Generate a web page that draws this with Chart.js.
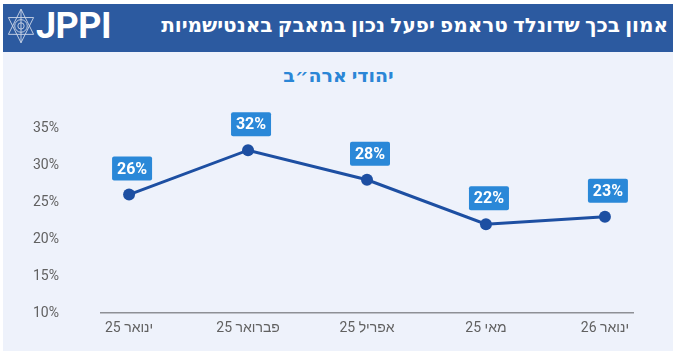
<!DOCTYPE html>
<html><head><meta charset="utf-8">
<script src="https://cdn.jsdelivr.net/npm/chart.js@4"></script>
<style>
html,body{margin:0;padding:0;background:#fff;}
#wrap{position:relative;width:677px;height:357px;overflow:hidden;font-family:"Noto Sans","DejaVu Sans",sans-serif;}
#card{position:absolute;left:3px;top:4px;width:670px;height:347px;background:#eef2fb;}
#head{position:absolute;left:3px;top:4px;width:670px;height:48px;background:#2c5aa0;}
#title{position:absolute;right:9px;top:11px;color:#fff;font-weight:bold;font-size:20px;direction:rtl;white-space:nowrap;line-height:28px;}
#logo{position:absolute;left:5px;top:6px;}
#jppi{position:absolute;left:36px;top:5px;color:#fff;font-weight:bold;font-size:36px;line-height:42px;letter-spacing:-0.5px;font-family:Roboto,sans-serif;}
#sub{position:absolute;left:0;width:677px;text-align:center;top:62px;color:#2a86d6;font-weight:bold;font-size:19px;direction:rtl;line-height:26px;}
canvas{position:absolute;left:0;top:0;}
</style></head>
<body>
<div id="wrap">
<div id="card"></div>
<div id="head"></div>
<svg id="logo" width="32" height="42" viewBox="0 0 30 40">
<g fill="none" stroke="#c9d3e6" stroke-width="0.9">
<polygon points="15,3 27,27 3,27"/>
<polygon points="15,35 27,11 3,11"/>
<circle cx="15" cy="19" r="6"/>
<circle cx="15" cy="19" r="3"/>
<line x1="15" y1="3" x2="15" y2="35"/>
</g>
</svg>
<div id="jppi">JPPI</div>
<div id="title">אמון בכך שדונלד טראמפ יפעל נכון במאבק באנטישמיות</div>
<div id="sub">יהודי ארה״ב</div>
<canvas id="c" width="677" height="357" style="direction:rtl"></canvas>
</div>
<script>
const categories = ["ינואר 25", "פברואר 25", "אפריל 25", "מאי 25", "ינואר 26"];
const values = [26, 32, 28, 22, 23];
const yTicks = [10, 15, 20, 25, 30, 35];

const FONT = 'Roboto, "Noto Sans", sans-serif';

const labelPlugin = {
  id: 'boxes',
  afterDatasetsDraw(chart) {
    const ctx = chart.ctx;
    const meta = chart.getDatasetMeta(0);
    ctx.save();
    ctx.font = 'bold 16px ' + FONT;
    meta.data.forEach((pt, i) => {
      const t = values[i] + '%';
      const w = 40, h = 24;
      const cx = pt.x + 3;
      const by = pt.y - 14;
      ctx.fillStyle = '#2a88d8';
      ctx.beginPath();
      ctx.roundRect(cx - w / 2, by - h, w, h, 2);
      ctx.fill();
      ctx.fillStyle = '#fff';
      ctx.textAlign = 'center';
      ctx.textBaseline = 'middle';
      ctx.fillText(t, cx, by - h / 2 + 1);
    });
    ctx.restore();
  }
};

new Chart(document.getElementById('c'), {
  type: 'line',
  data: {
    datasets: [{
      data: values.map((v, i) => ({ x: i, y: v })),
      borderColor: '#1d4fa2',
      backgroundColor: '#1d4fa2',
      borderWidth: 3,
      pointRadius: 6,
      pointBackgroundColor: '#1d4fa2',
      pointBorderWidth: 0,
      tension: 0
    }]
  },
  options: {
    responsive: false,
    animation: false,
    layout: { padding: { left: 33, right: 44, top: 128, bottom: 0 } },
    plugins: { legend: { display: false }, tooltip: { enabled: false } },
    scales: {
      x: {
        type: 'linear', min: -0.236, max: 4.236,
        afterBuildTicks(s) { s.ticks = categories.map((_, i) => ({ value: i })); },
        afterFit(s) { s.height = 44; },
        grid: { display: false, drawTicks: false },
        border: { display: true, color: '#8e9096', width: 1.5 },
        ticks: { callback: v => categories[v], padding: 7, color: '#616161', font: { size: 14, family: FONT }, autoSkip: false, maxRotation: 0 }
      },
      y: {
        min: 10, max: 35,
        afterBuildTicks(s) { s.ticks = yTicks.map(v => ({ value: v })); },
        afterFit(s) { s.width = 68; },
        grid: { display: false, drawTicks: false },
        border: { display: false },
        ticks: { callback: v => v + '%', padding: 0, crossAlign: 'far', color: '#616161', font: { size: 14, family: FONT } }
      }
    }
  },
  plugins: [labelPlugin]
});
</script>
</body></html>
